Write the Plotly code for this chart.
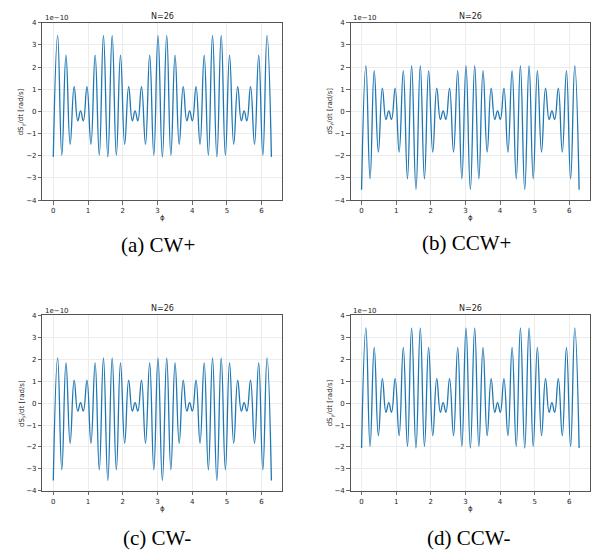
import plotly.graph_objects as go

# phi positions of the local extrema, same for all panels
phi = [0.000, 0.125, 0.245, 0.365, 0.485, 0.600, 0.705, 0.785, 0.865, 0.970, 1.085, 1.205, 1.325, 1.445,
       1.571, 1.696, 1.816, 1.936, 2.056, 2.171, 2.276, 2.356, 2.436, 2.541, 2.656, 2.776, 2.896, 3.016,
       3.142, 3.267, 3.387, 3.507, 3.627, 3.742, 3.847, 3.927, 4.007, 4.112, 4.227, 4.347, 4.467, 4.587,
       4.712, 4.837, 4.957, 5.077, 5.197, 5.312, 5.417, 5.497, 5.577, 5.682, 5.797, 5.917, 6.037, 6.157,
       6.283]

# dS_y/dt values at those extrema, in units of 1e-10 rad/s
cw_plus = [-2.05, 3.43, -1.98, 2.54, -1.48, 1.12, -0.42, 0.02, -0.42, 1.12, -1.48, 2.54, -1.98, 3.43,
           -2.05, 3.43, -1.98, 2.54, -1.48, 1.12, -0.42, 0.02, -0.42, 1.12, -1.48, 2.54, -1.98, 3.43,
           -2.05, 3.43, -1.98, 2.54, -1.48, 1.12, -0.42, 0.02, -0.42, 1.12, -1.48, 2.54, -1.98, 3.43,
           -2.05, 3.43, -1.98, 2.54, -1.48, 1.12, -0.42, 0.02, -0.42, 1.12, -1.48, 2.54, -1.98, 3.43,
           -2.05]
ccw_plus = [-3.53, 2.06, -3.04, 1.84, -1.83, 1.05, -0.36, 0.02, -0.36, 1.05, -1.83, 1.84, -3.04, 2.06,
            -3.53, 2.06, -3.04, 1.84, -1.83, 1.05, -0.36, 0.02, -0.36, 1.05, -1.83, 1.84, -3.04, 2.06,
            -3.53, 2.06, -3.04, 1.84, -1.83, 1.05, -0.36, 0.02, -0.36, 1.05, -1.83, 1.84, -3.04, 2.06,
            -3.53, 2.06, -3.04, 1.84, -1.83, 1.05, -0.36, 0.02, -0.36, 1.05, -1.83, 1.84, -3.04, 2.06,
            -3.53]
cw_minus = list(ccw_plus)
ccw_minus = list(cw_plus)

panels = [cw_plus, ccw_plus, cw_minus, ccw_minus]
captions = ["(a) CW+", "(b) CCW+", "(c) CW-", "(d) CCW-"]
panel_title = "N=26"
x_ticks = [0, 1, 2, 3, 4, 5, 6]
y_ticks = [-4, -3, -2, -1, 0, 1, 2, 3, 4]

W, H = 591, 552
# pixel boxes of the axes: (left, right, top, bottom)
boxes = [(42.4, 282.3, 19, 199), (350.7, 590.0, 19, 199),
         (42.4, 282.3, 316, 494), (350.7, 590.0, 316, 494)]
caption_pos = [(157.5, 245), (466, 243), (157, 542), (468, 542)]

fig = go.Figure()
annotations = []
TXT = "#222222"
FONT = "DejaVu Sans"

for i, (ys, (l, r, t, b)) in enumerate(zip(panels, boxes)):
    n = "" if i == 0 else str(i + 1)
    fig.add_trace(go.Scatter(x=phi, y=ys, mode="lines",
                             line=dict(color="#1f77b4", width=1.3, shape="spline", smoothing=1.3),
                             xaxis="x" + n, yaxis="y" + n, showlegend=False, hoverinfo="skip"))
    common = dict(showline=True, linecolor="#555555", linewidth=1, mirror=True,
                  showgrid=True, gridcolor="#ececec", gridwidth=1, zeroline=False,
                  ticks="outside", ticklen=3.5, tickwidth=0.8, tickcolor="#444444",
                  tickfont=dict(family=FONT, size=7, color=TXT))
    fig.update_layout(**{
        "xaxis" + n: dict(domain=[l / W, r / W], anchor="y" + n, range=[-0.314, 6.597],
                          tickmode="array", tickvals=x_ticks, **common),
        "yaxis" + n: dict(domain=[1 - b / H, 1 - t / H], anchor="x" + n, range=[-4, 4],
                          tickmode="array", tickvals=y_ticks, **common),
    })
    cx = (l + r) / 2
    annotations += [
        dict(text=panel_title, x=cx / W, y=1 - (t - 6.8) / H, xref="paper", yref="paper",
             showarrow=False, xanchor="center", yanchor="middle",
             font=dict(family=FONT, size=8, color=TXT)),
        dict(text="1e\u221210", x=(l + 0.5) / W, y=1 - (t - 4.5) / H, xref="paper", yref="paper",
             showarrow=False, xanchor="left", yanchor="middle",
             font=dict(family=FONT, size=7, color=TXT)),
        dict(text="\u03d5", x=cx / W, y=1 - (b + 18) / H, xref="paper", yref="paper",
             showarrow=False, xanchor="center", yanchor="middle",
             font=dict(family=FONT, size=7, color=TXT)),
        dict(text="dS<sub>y</sub>/dt [rad/s]", x=(l - 20.5) / W, y=1 - (t + b) / 2 / H,
             xref="paper", yref="paper", showarrow=False, textangle=-90,
             xanchor="center", yanchor="middle",
             font=dict(family=FONT, size=7, color=TXT)),
        dict(text=captions[i], x=caption_pos[i][0] / W, y=1 - caption_pos[i][1] / H,
             xref="paper", yref="paper", showarrow=False, xanchor="center", yanchor="middle",
             font=dict(family="Liberation Serif", size=21, color="black")),
    ]

fig.update_layout(width=W, height=H, autosize=False,
                  margin=dict(l=0, r=0, t=0, b=0, pad=0),
                  paper_bgcolor="white", plot_bgcolor="white",
                  annotations=annotations)

fig.write_html("out.html", config={"displayModeBar": False, "staticPlot": True},
               post_script="document.body.style.margin='0';document.body.style.padding='0';"
                           "document.body.style.overflow='hidden';")
